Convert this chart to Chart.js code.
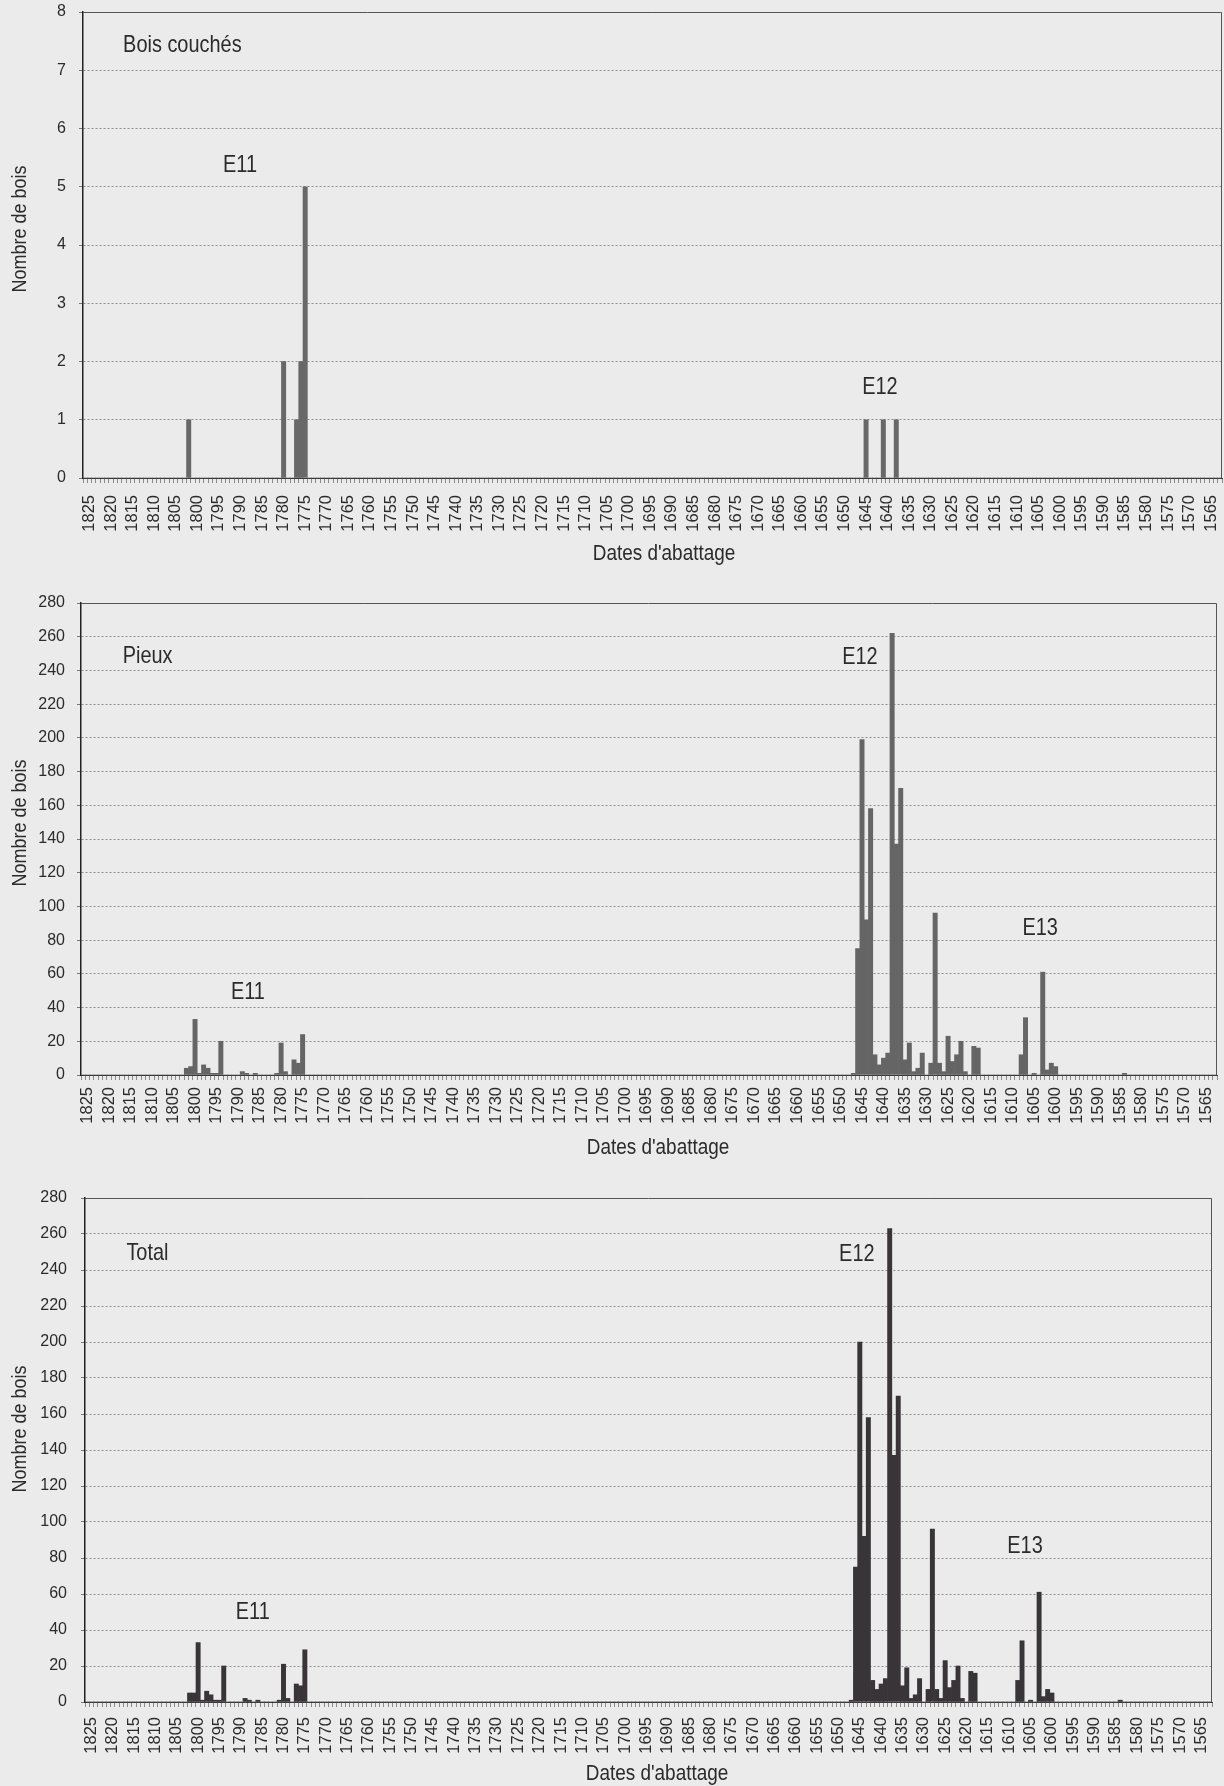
<!DOCTYPE html>
<html lang="fr">
<head>
<meta charset="UTF-8">
<title>Dates d'abattage - Bois couchés, Pieux, Total</title>
<style>
  html, body { margin: 0; padding: 0; background: #ebebeb; }
  body { width: 1224px; height: 1786px; position: relative; overflow: hidden; }
  .panel { position: absolute; left: 0; width: 1224px; }
</style>
</head>
<body>
<div class="panel" style="top:0px"><canvas id="chartBois" width="1224" height="580"></canvas></div>
<div class="panel" style="top:590px"><canvas id="chartPieux" width="1224" height="580"></canvas></div>
<div class="panel" style="top:1180px"><canvas id="chartTotal" width="1224" height="606"></canvas></div>

<script src="https://cdn.jsdelivr.net/npm/chart.js@4.4.1/dist/chart.umd.min.js"></script>
<script>
// categories: felling years, newest first
const firstYear = 1826;
const lastYear = 1563;
const years = [];
for (let y = firstYear; y >= lastYear; y--) years.push(y);

// Bois couchés
const boisYears  = [1802, 1780, 1777, 1776, 1775, 1645, 1641, 1638];
const boisCounts = [1, 2, 1, 2, 5, 1, 1, 1];

// Pieux
const pieuxYears = [1802, 1801, 1800, 1799, 1798, 1797, 1796, 1795, 1794, 1789, 1788, 1786, 1781, 1780, 1779, 1777, 1776, 1775,
  1647, 1646, 1645, 1644, 1643, 1642, 1641, 1640, 1639, 1638, 1637, 1636, 1635, 1634, 1633, 1632, 1631, 1629, 1628, 1627,
  1626, 1625, 1624, 1623, 1622, 1621, 1619, 1618,
  1608, 1607, 1605, 1603, 1602, 1601, 1600, 1584];
const pieuxCounts = [4, 5, 33, 1, 6, 4, 1, 1, 20, 2, 1, 1, 1, 19, 2, 9, 7, 24,
  1, 75, 199, 92, 158, 12, 6, 10, 13, 262, 137, 170, 9, 19, 2, 4, 13, 7, 96, 7,
  2, 23, 8, 12, 20, 2, 17, 16,
  12, 34, 1, 61, 3, 7, 5, 1];

// Total
const totalYears = [1802, 1801, 1800, 1799, 1798, 1797, 1796, 1795, 1794, 1789, 1788, 1786, 1781, 1780, 1779, 1777, 1776, 1775,
  1647, 1646, 1645, 1644, 1643, 1642, 1641, 1640, 1639, 1638, 1637, 1636, 1635, 1634, 1633, 1632, 1631, 1629, 1628, 1627,
  1626, 1625, 1624, 1623, 1622, 1621, 1619, 1618,
  1608, 1607, 1605, 1603, 1602, 1601, 1600, 1584];
const totalCounts = [5, 5, 33, 1, 6, 4, 1, 1, 20, 2, 1, 1, 1, 21, 2, 10, 9, 29,
  1, 75, 200, 92, 158, 12, 7, 10, 13, 263, 137, 170, 9, 19, 2, 4, 13, 7, 96, 7,
  2, 23, 8, 12, 20, 2, 17, 16,
  12, 34, 1, 61, 3, 7, 5, 1];

const boisTicks = [0, 1, 2, 3, 4, 5, 6, 7, 8];
const pieuxTicks = [0, 20, 40, 60, 80, 100, 120, 140, 160, 180, 200, 220, 240, 260, 280];

function toSeries(ys, counts) {
  const out = years.map(() => 0);
  ys.forEach((y, i) => { out[firstYear - y] = counts[i]; });
  return out;
}

const FONT = "'Liberation Sans', Arial, sans-serif";
const INK = '#2b2b2b';

// narrow-looking text: squeeze horizontally around the anchor
function squeezedText(ctx, text, x, y, size, squeeze, align, rotate) {
  ctx.save();
  ctx.translate(x, y);
  if (rotate) ctx.rotate(-Math.PI / 2);
  ctx.scale(squeeze, 1);
  ctx.font = size + 'px ' + FONT;
  ctx.textAlign = align;
  ctx.textBaseline = 'middle';
  ctx.fillText(text, 0, 0);
  ctx.restore();
}

// labels inside the plot (anchored on year / value), frame and axis titles
const textMarks = {
  id: 'textMarks',
  afterDraw(chart, args, opts) {
    const { ctx, chartArea: a, scales: { x, y } } = chart;
    const x0 = x.getPixelForValue(0);
    const step = x.getPixelForValue(1) - x0;
    ctx.save();
    ctx.strokeStyle = '#555';
    ctx.lineWidth = 1;
    ctx.beginPath();
    ctx.moveTo(a.left, a.top + 0.5);
    ctx.lineTo(a.right - 0.5, a.top + 0.5);
    ctx.lineTo(a.right - 0.5, a.bottom);
    ctx.stroke();
    ctx.fillStyle = INK;
    opts.items.forEach(it => {
      squeezedText(ctx, it.text, x0 + (firstYear - it.year) * step, y.getPixelForValue(it.value),
        24, 0.83, it.align || 'center', false);
    });
    squeezedText(ctx, "Dates d'abattage", opts.xTitle[0], opts.xTitle[1], 22, 0.86, 'center', false);
    squeezedText(ctx, 'Nombre de bois', opts.yTitle[0], opts.yTitle[1], 20, 0.9, 'center', true);
    ctx.restore();
  }
};

function makeChart(id, cfg) {
  const ticksList = cfg.ticks;
  return new Chart(document.getElementById(id), {
    type: 'bar',
    data: {
      labels: years,
      datasets: [{
        data: cfg.data,
        backgroundColor: cfg.color,
        borderWidth: 0,
        categoryPercentage: 1,
        barPercentage: 1
      }]
    },
    options: {
      responsive: false,
      animation: false,
      devicePixelRatio: 1,
      layout: { padding: { top: cfg.padTop, right: cfg.padRight, left: 0, bottom: 0 } },
      plugins: {
        legend: { display: false },
        tooltip: { enabled: false },
        textMarks: { items: cfg.marks, xTitle: cfg.xTitle, yTitle: cfg.yTitle }
      },
      scales: {
        x: {
          grid: { drawOnChartArea: false, drawTicks: true, tickLength: 5, color: '#8c8c8c' },
          border: { display: true, color: '#3a3a3a', width: 1 },
          ticks: {
            autoSkip: false,
            minRotation: 90,
            maxRotation: 90,
            padding: cfg.xPad,
            color: INK,
            font: { family: FONT, size: 16.5 },
            callback: (v, i) => (years[i] % 5 === 0 ? String(years[i]) : '')
          },
          afterFit: s => { s.height = cfg.xHeight; s.paddingLeft = 0; s.paddingRight = 0; }
        },
        y: {
          min: ticksList[0],
          max: ticksList[ticksList.length - 1],
          afterBuildTicks: s => { s.ticks = ticksList.map(v => ({ value: v })); },
          grid: { color: '#8e8e8e', lineWidth: 1, tickLength: 4, tickColor: '#777' },
          border: { display: true, color: '#222', width: 1.5, dash: [2, 2] },
          ticks: { padding: cfg.yPad, color: INK, font: { family: FONT, size: 16 } },
          afterFit: s => { s.width = cfg.yWidth; s.paddingTop = 0; s.paddingBottom = 0; }
        }
      }
    },
    plugins: [textMarks]
  });
}

makeChart('chartBois', {
  data: toSeries(boisYears, boisCounts),
  ticks: boisTicks,
  color: '#686868',
  padTop: 12, padRight: 2, yWidth: 83, xHeight: 102, xPad: 12, yPad: 13,
  xTitle: [664, 554], yTitle: [20, 229],
  marks: [
    { text: 'Bois couchés', year: 1817.2, value: 7.42, align: 'left' },
    { text: 'E11', year: 1790.1, value: 5.37 },
    { text: 'E12', year: 1641.8, value: 1.56 }
  ]
});

makeChart('chartPieux', {
  data: toSeries(pieuxYears, pieuxCounts),
  ticks: pieuxTicks,
  color: '#656565',
  padTop: 13, padRight: 7, yWidth: 81, xHeight: 95, xPad: 7, yPad: 12,
  xTitle: [658, 558], yTitle: [20, 233],
  marks: [
    { text: 'Pieux', year: 1816.8, value: 248.5, align: 'left' },
    { text: 'E11', year: 1787.7, value: 49.2 },
    { text: 'E12', year: 1645.5, value: 248 },
    { text: 'E13', year: 1603.6, value: 87.2 }
  ]
});

makeChart('chartTotal', {
  data: toSeries(totalYears, totalCounts),
  ticks: pieuxTicks,
  color: '#393437',
  padTop: 18, padRight: 12, yWidth: 85, xHeight: 84, xPad: 10, yPad: 14,
  xTitle: [657, 594], yTitle: [20, 249],
  marks: [
    { text: 'Total', year: 1816.8, value: 249.4, align: 'left' },
    { text: 'E11', year: 1787.2, value: 50 },
    { text: 'E12', year: 1645.7, value: 248.9 },
    { text: 'E13', year: 1606.3, value: 86.7 }
  ]
});
</script>
</body>
</html>
